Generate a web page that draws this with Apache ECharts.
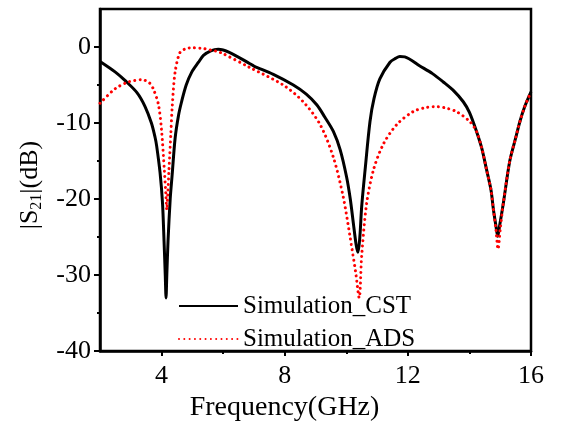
<!DOCTYPE html>
<html>
<head>
<meta charset="utf-8">
<script src="https://cdn.jsdelivr.net/npm/echarts@6/dist/echarts.min.js"></script>
<style>
  html, body { margin: 0; padding: 0; background: #fff; }
  #chart { width: 562px; height: 427px; }
</style>
</head>
<body>
<div id="chart"></div>
<script>
// |S21| (dB) versus frequency (GHz) for the two simulators
const seriesNames = ['Simulation_CST', 'Simulation_ADS'];

const freqCST = [2.0, 2.5, 2.81, 3.2, 3.46, 3.67, 3.79, 3.84, 3.95, 4.03, 4.08, 4.12, 4.145, 4.17, 4.21, 4.28, 4.34, 4.44, 4.55, 4.65, 4.8, 4.98, 5.2, 5.36, 5.6, 5.84, 6.2, 6.87, 7.0, 7.63, 8.28, 8.7, 9.04, 9.3, 9.58, 9.8, 10.01, 10.13, 10.23, 10.32, 10.38, 10.44, 10.5, 10.61, 10.77, 10.9, 11.09, 11.42, 11.6, 11.74, 11.9, 12.39, 12.8, 13.15, 13.5, 13.8, 14.0, 14.23, 14.4, 14.56, 14.7, 14.78, 14.86, 14.92, 14.98, 15.1, 15.31, 15.5, 15.64, 15.8, 16.0];
const s21CST = [-1.9, -3.3, -4.4, -6.0, -7.8, -10.0, -11.9, -13.0, -16.5, -20.5, -25.5, -30.0, -33.0, -30.0, -25.5, -20.0, -17.0, -12.0, -9.0, -7.2, -5.0, -3.3, -2.0, -1.1, -0.5, -0.3, -0.7, -2.2, -2.5, -3.6, -5.0, -6.2, -7.6, -9.2, -11.1, -13.5, -17.1, -20.0, -23.2, -26.0, -27.0, -25.0, -21.0, -16.2, -9.8, -6.8, -4.2, -2.0, -1.5, -1.25, -1.3, -2.5, -3.5, -4.6, -5.8, -7.2, -8.6, -11.1, -13.3, -16.2, -18.8, -21.4, -23.5, -24.9, -23.5, -20.6, -15.0, -12.0, -9.8, -7.8, -5.9];

const freqADS = [2.0, 2.49, 2.92, 3.36, 3.6, 3.73, 3.9, 4.0, 4.09, 4.14, 4.17, 4.2, 4.24, 4.3, 4.35, 4.44, 4.6, 4.8, 4.97, 5.36, 5.6, 5.9, 6.87, 7.95, 8.6, 9.15, 9.58, 9.9, 10.12, 10.3, 10.42, 10.5, 10.66, 10.88, 11.2, 11.64, 12.17, 12.6, 12.93, 13.2, 13.58, 14.01, 14.23, 14.4, 14.56, 14.7, 14.78, 14.86, 14.93, 15.0, 15.1, 15.31, 15.5, 15.64, 15.8, 16.0];
const s21ADS = [-7.4, -5.5, -4.6, -4.3, -4.7, -5.5, -7.6, -11.0, -16.2, -19.5, -21.4, -19.5, -16.2, -11.5, -7.6, -3.3, -0.7, -0.2, -0.1, -0.2, -0.4, -0.7, -2.7, -5.0, -7.2, -10.2, -14.5, -19.7, -24.9, -29.5, -33.0, -27.5, -20.6, -16.2, -12.8, -10.2, -8.5, -7.95, -7.85, -8.0, -8.5, -9.8, -11.1, -13.3, -16.2, -18.8, -21.4, -24.0, -26.6, -24.0, -20.6, -15.0, -12.0, -9.8, -7.8, -5.9];

// axis ranges and tick positions
const xRange = [2, 16];
const yRange = [-40, 5];
const xMajorTicks = [4, 8, 12, 16];
const xMinorTicks = [6, 10, 14];
const yMajorTicks = [-40, -30, -20, -10, 0];
const yMinorTicks = [-35, -25, -15, -5];

const serif = '"Liberation Serif", "Times New Roman", serif';
const pairs = (xs, ys) => xs.map((x, i) => [x, ys[i]]);

const chart = echarts.init(document.getElementById('chart'), null, { renderer: 'canvas' });

const axisLineStyle = { color: '#000', width: 2.5 };

chart.setOption({
  animation: false,
  backgroundColor: '#fff',
  grid: {
    left: 100, right: 31, top: 9, bottom: 70,
    show: true, borderColor: '#000', borderWidth: 2.5, backgroundColor: 'transparent'
  },
  legend: {
    orient: 'vertical',
    left: 173, top: 287,
    itemWidth: 59, itemHeight: 14, itemGap: 5,
    itemStyle: { opacity: 0 },
    textStyle: { fontFamily: serif, fontSize: 25, lineHeight: 28, color: '#000' },
    data: seriesNames
  },
  xAxis: [
    {
      type: 'value', min: xRange[0], max: xRange[1], position: 'bottom',
      name: 'Frequency(GHz)', nameLocation: 'middle', nameGap: 31,
      nameTextStyle: { fontFamily: serif, fontSize: 28, color: '#000', padding: [0, 62, 0, 0] },
      axisLine: { show: true, onZero: false, lineStyle: axisLineStyle },
      axisTick: { show: true, inside: false, length: 5, customValues: xMajorTicks, lineStyle: { color: '#000', width: 2 } },
      axisLabel: { customValues: xMajorTicks, margin: 12, fontFamily: serif, fontSize: 26, color: '#000' },
      splitLine: { show: false }
    },
    {
      type: 'value', min: xRange[0], max: xRange[1], position: 'bottom', gridIndex: 0,
      axisLine: { show: false, onZero: false },
      axisTick: { show: true, inside: false, length: 3, customValues: xMinorTicks, lineStyle: { color: '#000', width: 2 } },
      axisLabel: { show: false },
      splitLine: { show: false }
    }
  ],
  yAxis: [
    {
      type: 'value', min: yRange[0], max: yRange[1], position: 'left',
      name: '|S{sub|21}|(dB)', nameLocation: 'middle', nameGap: 55,
      nameTextStyle: {
        fontFamily: serif, fontSize: 26, lineHeight: 30, color: '#000', padding: [0, 10, 0, 0],
        rich: { sub: { fontFamily: serif, fontSize: 16, lineHeight: 16, verticalAlign: 'bottom', color: '#000' } }
      },
      axisLine: { show: true, onZero: false, lineStyle: axisLineStyle },
      axisTick: { show: true, inside: false, length: 6, customValues: yMajorTicks, lineStyle: { color: '#000', width: 2 } },
      axisLabel: { customValues: yMajorTicks, margin: 9, fontFamily: serif, fontSize: 26, color: '#000' },
      splitLine: { show: false }
    },
    {
      type: 'value', min: yRange[0], max: yRange[1], position: 'left', gridIndex: 0,
      axisLine: { show: false, onZero: false },
      axisTick: { show: true, inside: false, length: 3, customValues: yMinorTicks, lineStyle: { color: '#000', width: 2 } },
      axisLabel: { show: false },
      splitLine: { show: false }
    }
  ],
  series: [
    {
      name: seriesNames[0], type: 'line', xAxisIndex: 0, yAxisIndex: 0,
      data: pairs(freqCST, s21CST),
      symbol: 'none', smooth: 0.3,
      lineStyle: { color: '#000', width: 3 },
      itemStyle: { color: '#000' }
    },
    {
      name: seriesNames[1], type: 'line', xAxisIndex: 0, yAxisIndex: 0,
      data: pairs(freqADS, s21ADS),
      symbol: 'none', smooth: 0.3,
      lineStyle: { color: '#ff0000', width: 3, type: [0.01, 5.3], cap: 'round' },
      itemStyle: { color: '#ff0000' }
    }
  ]
});
</script>
</body>
</html>
